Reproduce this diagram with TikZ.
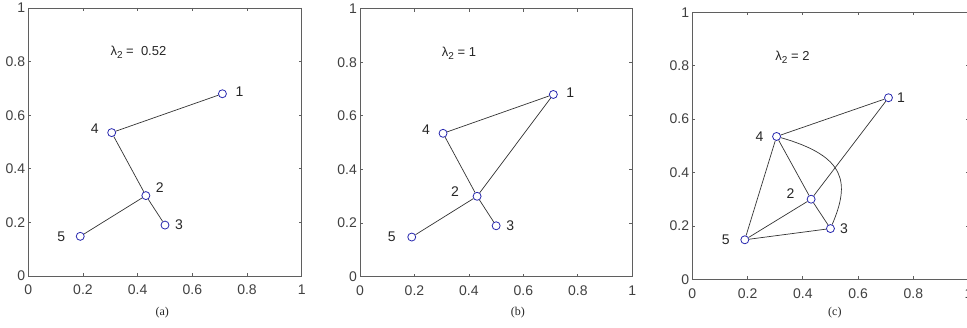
\documentclass[tikz,border=0pt]{standalone}
\usepackage{fontspec}
\setmainfont{Liberation Sans}
\newfontfamily\capfont{Liberation Serif}
\usepackage{tikz}
\usetikzlibrary{positioning}
\definecolor{markblue}{RGB}{40,40,175}
\definecolor{axisgray}{RGB}{95,95,95}

\begin{document}
\begin{tikzpicture}[
  x=1pt, y=1pt,
  frame/.style={draw=axisgray, line width=0.9pt},
  tickmark/.style={draw=axisgray, line width=0.8pt},
  ticklabel/.style={text=black!75, font=\fontsize{14}{16}\selectfont, inner sep=0pt},
  vertex/.style={circle, draw=markblue, fill=white, line width=0.8pt, minimum size=8pt, inner sep=0pt},
  vlabel/.style={text=black!85, font=\fontsize{14}{16}\selectfont, inner sep=0pt},
  link/.style={draw=black!80, line width=0.7pt},
  eigen/.style={anchor=west, inner sep=0pt, text=black!85, font=\fontsize{13}{15}\selectfont},
  caption/.style={inner sep=0pt, text=black!85, font=\capfont\fontsize{12}{14}\selectfont}
]
\useasboundingbox (0,0) rectangle (967,327);

% axes boxes with ticks
\foreach \px/\py/\sx/\sy in {28.3/51/273.4/268, 360/50.3/272.3/268, 692.3/47.7/276.3/267} {
  \begin{scope}[shift={(\px,\py)}, x=\sx pt, y=\sy pt]
    \draw[frame] (0,0) rectangle (1,1);
    \foreach \t in {0,0.2,0.4,0.6,0.8,1} {
      \draw[tickmark] (\t,0) -- ++(0,3pt) (\t,1) -- ++(0,-3pt)
                      (0,\t) -- ++(3pt,0) (1,\t) -- ++(-3pt,0);
      \node[ticklabel, anchor=north] at ([yshift=-9pt]\t,0) {\t};
      \node[ticklabel, anchor=east] at ([xshift=-3pt]0,\t) {\t};
    }
  \end{scope}
}

% (a)
\begin{scope}[shift={(28.3,51)}, x=273.4pt, y=268pt]
  \foreach \i/\x/\y in {1/0.71/0.68, 2/0.43/0.30, 3/0.50/0.19, 4/0.305/0.535, 5/0.19/0.148}
    \node[vertex] (a\i) at (\x,\y) {};
  \foreach \i/\dx/\dy in {1/17/2, 2/14/8, 3/14/0, 4/-17/4, 5/-19/0}
    \node[vlabel, xshift=\dx pt, yshift=\dy pt] at (a\i) {\i};
  \foreach \u/\v in {1/4, 4/2, 2/3, 2/5}
    \draw[link] (a\u) -- (a\v);
  \node[eigen] (lama) at (0.30,0.835) {λ\raisebox{-3pt}{\fontsize{10}{10}\selectfont 2} =\ \ 0.52};
  \node[caption] (capa) at (0.49,-0.138) {(a)};
\end{scope}

% (b)
\begin{scope}[shift={(360,50.3)}, x=272.3pt, y=268pt]
  \foreach \i/\x/\y in {1/0.71/0.68, 2/0.43/0.30, 3/0.50/0.19, 4/0.305/0.535, 5/0.19/0.148}
    \node[vertex] (b\i) at (\x,\y) {};
  \foreach \i/\dx/\dy in {1/17/2, 2/-22/5, 3/14/0, 4/-17/4, 5/-20/0}
    \node[vlabel, xshift=\dx pt, yshift=\dy pt] at (b\i) {\i};
  \foreach \u/\v in {1/4, 1/2, 4/2, 2/3, 2/5}
    \draw[link] (b\u) -- (b\v);
  \node[eigen] (lamb) at (0.30,0.835) {λ\raisebox{-3pt}{\fontsize{10}{10}\selectfont 2} = 1};
  \node[caption] (capb) at (0.58,-0.135) {(b)};
\end{scope}

% (c)
\begin{scope}[shift={(692.3,47.7)}, x=276.3pt, y=267pt]
  \foreach \i/\x/\y in {1/0.71/0.68, 2/0.43/0.30, 3/0.50/0.19, 4/0.305/0.535, 5/0.19/0.148}
    \node[vertex] (c\i) at (\x,\y) {};
  \foreach \i/\dx/\dy in {1/12.5/0, 2/-20.5/6, 3/13.5/0, 4/-17/0, 5/-19/0}
    \node[vlabel, xshift=\dx pt, yshift=\dy pt] at (c\i) {\i};
  \foreach \u/\v in {1/4, 1/2, 4/2, 2/3, 4/5, 2/5, 3/5}
    \draw[link] (c\u) -- (c\v);
  \draw[link] (c4) .. controls (0.56,0.46) and (0.57,0.36) .. (c3);
  \node[eigen] (lamc) at (0.30,0.83) {λ\raisebox{-3pt}{\fontsize{10}{10}\selectfont 2} = 2};
  \node[caption] (capc) at (0.516,-0.126) {(c)};
\end{scope}
\end{tikzpicture}
\end{document}
